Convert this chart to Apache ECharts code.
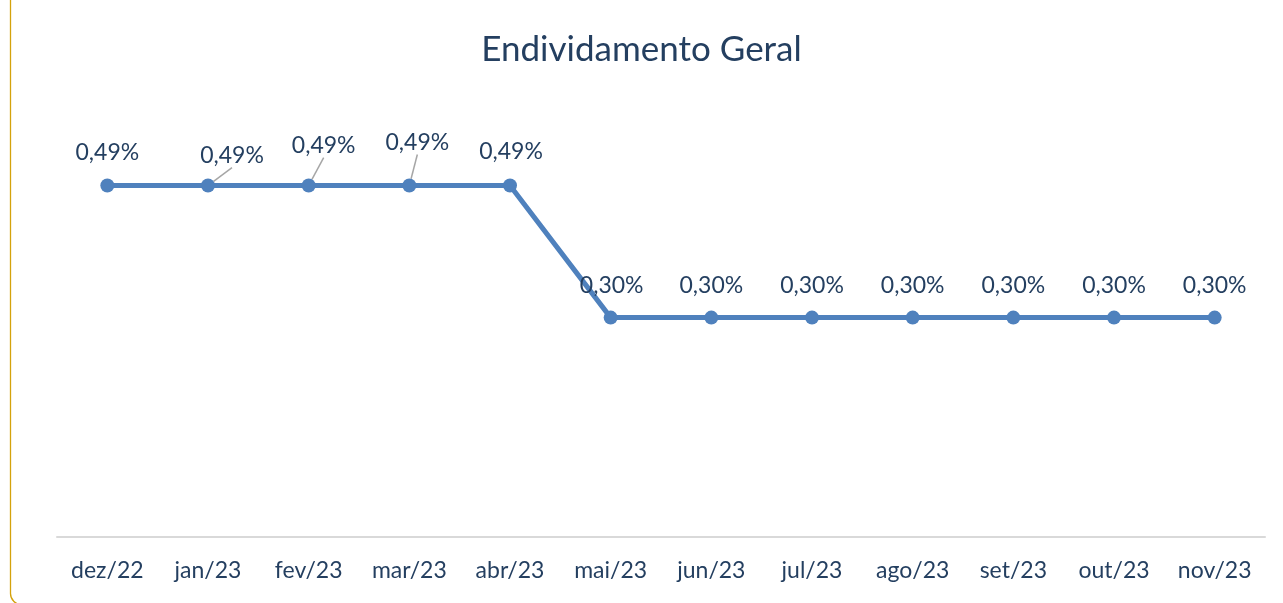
<!DOCTYPE html>
<html>
<head>
<meta charset="utf-8">
<script src="https://cdn.jsdelivr.net/npm/echarts@6/dist/echarts.min.js"></script>
<style>
  html, body { margin: 0; padding: 0; background: #fff; }
  #chart { width: 1283px; height: 603px; }
</style>
</head>
<body>
<div id="chart"></div>
<script>
'use strict';
var months = ['dez/22', 'jan/23', 'fev/23', 'mar/23', 'abr/23', 'mai/23', 'jun/23', 'jul/23', 'ago/23', 'set/23', 'out/23', 'nov/23'];
var endividamento = [0.487, 0.487, 0.487, 0.487, 0.487, 0.304, 0.304, 0.304, 0.304, 0.304, 0.304, 0.304];
// manual label nudges seen in the source (jan, fev, mar, abr)
var labelShift = [[0, 0], [24, 3], [15, -7], [8, -10], [1, -1], [1, 0], [0, 0], [0, 0], [0, 0], [0, 0], [0, 0], [0, 0]];
var withLeader = [1, 2, 3];

var textColor = '#243F60';
var font = 'Lato';

var seriesData = endividamento.map(function (v, i) {
    return {
        value: v,
        labelLine: { show: withLeader.indexOf(i) >= 0 }
    };
});

var chart = echarts.init(document.getElementById('chart'));
chart.setOption({
    animation: false,
    title: {
        text: 'Endividamento Geral',
        left: 'center',
        top: 27,
        textStyle: { fontFamily: font, fontSize: 35, fontWeight: 'normal', color: textColor }
    },
    grid: { left: 57, right: 18, top: 104, bottom: 66 },
    xAxis: {
        type: 'category',
        data: months,
        boundaryGap: true,
        axisLine: { lineStyle: { color: '#D9D9D9', width: 2 } },
        axisTick: { show: false },
        axisLabel: { interval: 0, fontFamily: font, fontSize: 23, color: textColor, margin: 22 }
    },
    yAxis: {
        type: 'value',
        min: 0,
        max: 0.6,
        show: false,
        splitLine: { show: false }
    },
    graphic: [{
        type: 'rect',
        shape: { x: 10.5, y: -30, width: 1320, height: 634.5, r: 11 },
        style: { fill: 'none', stroke: '#D4A20C', lineWidth: 1.3 },
        silent: true
    }],
    series: [{
        type: 'line',
        data: seriesData,
        symbol: 'circle',
        symbolSize: 14,
        lineStyle: { color: '#4F81BD', width: 5 },
        itemStyle: { color: '#4F81BD' },
        label: {
            show: true,
            position: 'top',
            distance: 14,
            fontFamily: font,
            fontSize: 23,
            color: textColor,
            formatter: function (p) {
                return p.value.toFixed(2).replace('.', ',') + '%';
            }
        },
        labelLine: { lineStyle: { color: '#A6A6A6', width: 1.5 } },
        labelLayout: function (params) {
            var s = labelShift[params.dataIndex];
            return { dx: s[0], dy: s[1] };
        }
    }]
});
</script>
</body>
</html>
